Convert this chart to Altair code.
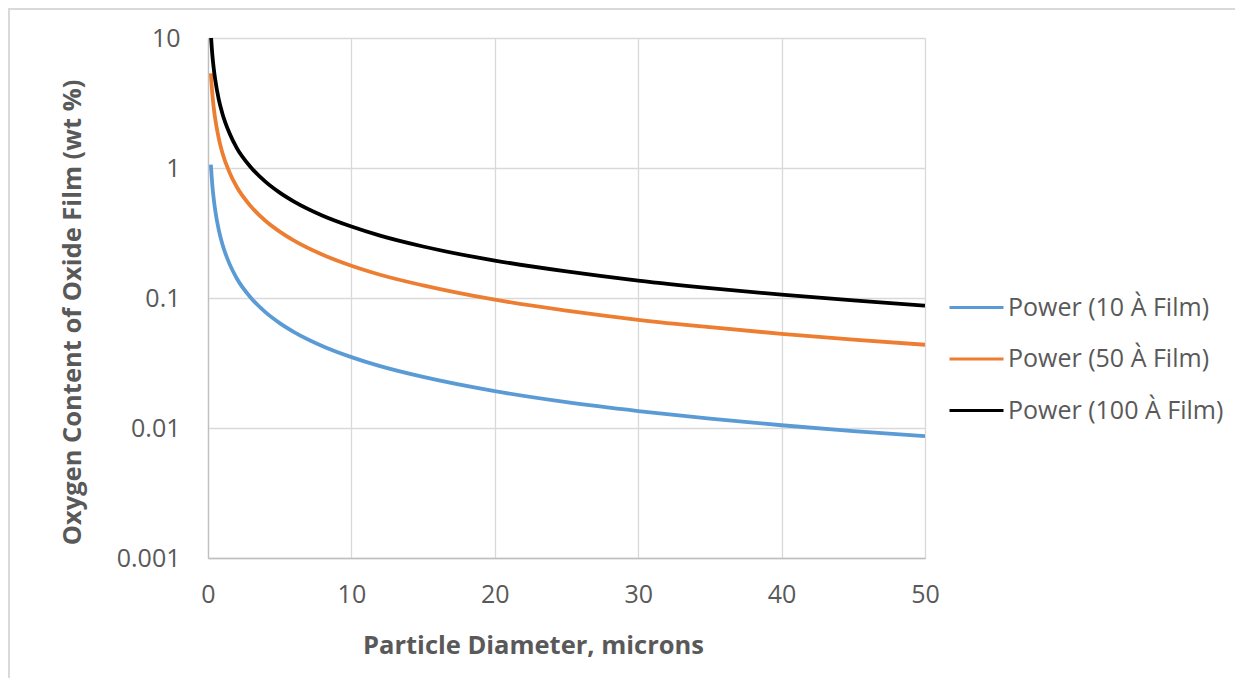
import altair as alt
import pandas as pd

# Particle diameter (microns)
diam = [0.2, 0.3, 0.4, 0.5, 0.75, 1, 1.5, 2, 3, 4, 5, 6, 8, 10, 12, 15, 20, 25, 30, 35, 40, 45, 50]
# Oxygen content (wt %)
film10 = [1.06, 0.74, 0.577, 0.476, 0.334, 0.26, 0.183, 0.142, 0.100, 0.0778, 0.0641, 0.0547, 0.0426,
          0.0351, 0.0299, 0.0247, 0.0192, 0.0158, 0.0135, 0.0118, 0.0105, 0.00947, 0.00865]
film50 = [5.35, 3.74, 2.91, 2.40, 1.69, 1.31, 0.925, 0.717, 0.505, 0.393, 0.324, 0.276, 0.215,
          0.177, 0.151, 0.125, 0.097, 0.080, 0.068, 0.0596, 0.053, 0.0478, 0.0437]
film100 = [10.7, 7.47, 5.83, 4.81, 3.37, 2.63, 1.85, 1.43, 1.01, 0.786, 0.647, 0.552, 0.430,
           0.355, 0.302, 0.249, 0.194, 0.160, 0.136, 0.119, 0.106, 0.0957, 0.0874]
series_names = ["Power (10 À Film)", "Power (50 À Film)", "Power (100 À Film)"]
series_colors = ["#5B9BD5", "#ED7D31", "#000000"]
y_ticks = [0.001, 0.01, 0.1, 1, 10]
x_ticks = [0, 10, 20, 30, 40, 50]

rows = []
for name, vals in zip(series_names, [film10, film50, film100]):
    for d, v in zip(diam, vals):
        rows.append({"diameter": d, "oxygen": v, "series": name})
df = pd.DataFrame(rows)

FONT = "Open Sans"
GREY = "#595959"

lines = alt.Chart(df).mark_line(strokeWidth=3.8, clip=True, interpolate="monotone").encode(
    x=alt.X("diameter:Q",
            scale=alt.Scale(domain=[0, 50], nice=False, zero=False),
            axis=alt.Axis(values=x_ticks, title="Particle Diameter, microns",
                          labelPadding=24, labelFlush=False,
                          titleX=325, titleY=87, titleBaseline="middle")),
    y=alt.Y("oxygen:Q",
            scale=alt.Scale(type="log", domain=[0.001, 10], nice=False),
            axis=alt.Axis(values=y_ticks, format="~g", title="Oxygen Content of Oxide Film (wt %)",
                          labelPadding=28, labelFlush=False,
                          titleX=-136, titleY=274, titleBaseline="middle")),
    color=alt.Color("series:N",
                    scale=alt.Scale(domain=series_names, range=series_colors),
                    legend=alt.Legend(title=None, orient="none", legendX=740, legendY=241,
                                      symbolType="stroke", symbolSize=2916, symbolStrokeWidth=3,
                                      labelFontSize=25, labelColor=GREY, labelFont=FONT,
                                      labelLimit=400, rowPadding=9.5, labelOffset=3)),
    order=alt.Order("diameter:Q"),
)

border_left = alt.Chart(pd.DataFrame({"k": [0]})).mark_rule(color="#d9d9d9", strokeWidth=2, clip=False).encode(
    x=alt.value(-199), y=alt.value(-30), y2=alt.value(650))
border_top = alt.Chart(pd.DataFrame({"k": [0]})).mark_rule(color="#d9d9d9", strokeWidth=2, clip=False).encode(
    x=alt.value(-199), x2=alt.value(1034), y=alt.value(-29))

chart = alt.layer(lines, border_left, border_top).properties(
    width=717, height=520,
    autosize=alt.AutoSizeParams(type="none"),
    padding={"left": 200, "top": 30, "right": 310, "bottom": 120},
    background="white",
).configure_view(stroke="#d9d9d9", strokeWidth=1).configure_axis(
    grid=True, gridColor="#d9d9d9", gridWidth=1.3, domainColor="#bfbfbf", domainWidth=1.3,
    ticks=False, labelFont=FONT, labelFontSize=25, labelColor=GREY,
    titleFont=FONT, titleFontSize=25.5, titleFontWeight="bold", titleColor=GREY,
)

chart.save("out.html", embed_options={"renderer": "svg", "actions": False})
